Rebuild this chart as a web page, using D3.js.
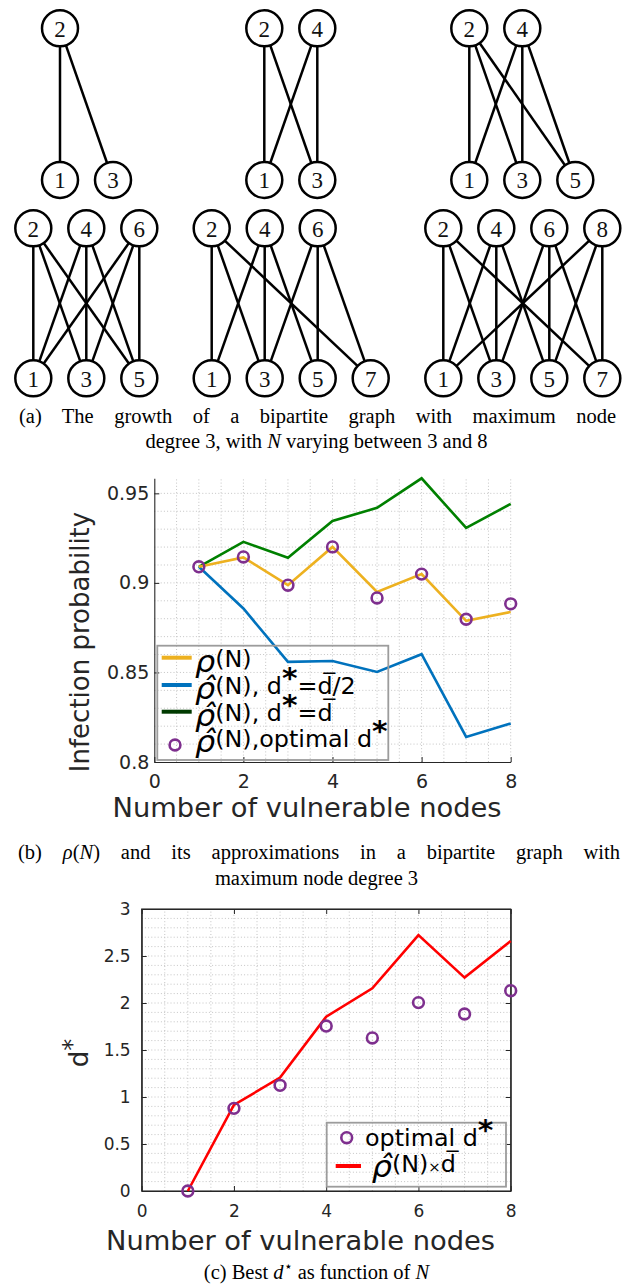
<!DOCTYPE html>
<html><head><meta charset="utf-8">
<script src="https://cdn.jsdelivr.net/npm/d3@7"></script>
<style>body{margin:0;background:#fff}svg{display:block}</style>
</head><body>
<svg id="fig" width="633" height="1288"></svg>
<script>
// ---------- (a) bipartite graphs, N = 3..8 ----------
const graphSizes = [3, 4, 5, 6, 7, 8];
const graphEdges = [
  [[2,1],[2,3]],
  [[2,1],[2,3],[4,1],[4,3]],
  [[2,1],[2,3],[2,5],[4,1],[4,3],[4,5]],
  [[2,1],[2,3],[2,5],[4,1],[4,3],[4,5],[6,1],[6,3],[6,5]],
  [[2,1],[2,3],[2,7],[4,1],[4,3],[4,5],[6,3],[6,5],[6,7]],
  [[2,1],[2,3],[2,7],[4,1],[4,3],[4,5],[6,3],[6,5],[6,7],[8,1],[8,5],[8,7]]
];

// ---------- (b) infection probability vs number of vulnerable nodes ----------
const nodeCounts = [1, 2, 3, 4, 5, 6, 7, 8];
const rhoExact   = [0.9090, 0.9142, 0.8987, 0.9201, 0.8950, 0.9049, 0.8788, 0.8838];
const rhoHalfD   = [0.9090, 0.8857, 0.8559, 0.8564, 0.8503, 0.8602, 0.8140, 0.8215];
const rhoFullD   = [0.9090, 0.9229, 0.9140, 0.9346, 0.9419, 0.9584, 0.9307, 0.9441];
const rhoOptimal = [0.9090, 0.9145, 0.8987, 0.9201, 0.8916, 0.9049, 0.8797, 0.8883];
const xTicks  = [0, 2, 4, 6, 8];
const yTicksB = [0.8, 0.85, 0.9, 0.95];

// ---------- (c) best d* vs number of vulnerable nodes ----------
const dOptimal     = [0, 0.879, 1.124, 1.755, 1.628, 2.004, 1.883, 2.131];
const dRhoTimesBar = [0, 0.915, 1.206, 1.855, 2.156, 2.723, 2.270, 2.660];
const yTicksC = [0, 0.5, 1, 1.5, 2, 2.5, 3];

const svg = d3.select("#fig");
const SANS = "DejaVu Sans";
const SERIF = "Liberation Serif";
const AX = "#262626";

// ================= (a) =================
const graphSlots = [
  {x0: 60,    yTop: 28.3,  yBot: 180},
  {x0: 264.3, yTop: 28.3,  yBot: 180},
  {x0: 469.3, yTop: 28.3,  yBot: 180},
  {x0: 33.3,  yTop: 228.3, yBot: 378.3},
  {x0: 211.7, yTop: 228.3, yBot: 378.3},
  {x0: 443.3, yTop: 228.3, yBot: 378.3}
];
const nodeR = 18;
graphSizes.forEach((n, gi) => {
  const slot = graphSlots[gi];
  const sx = d3.scaleLinear().domain([0, 1]).range([slot.x0, slot.x0 + 53]);
  const pos = id => ({
    x: sx(id % 2 === 0 ? id / 2 - 1 : (id - 1) / 2),
    y: id % 2 === 0 ? slot.yTop : slot.yBot
  });
  const g = svg.append("g");
  g.selectAll("line").data(graphEdges[gi]).join("line")
    .attr("x1", d => pos(d[0]).x).attr("y1", d => pos(d[0]).y)
    .attr("x2", d => pos(d[1]).x).attr("y2", d => pos(d[1]).y)
    .attr("stroke", "#000").attr("stroke-width", 2.5);
  const ids = d3.range(1, n + 1);
  const nodes = g.selectAll("g.node").data(ids).join("g")
    .attr("class", "node")
    .attr("transform", d => `translate(${pos(d).x},${pos(d).y})`);
  nodes.append("circle").attr("r", nodeR)
    .attr("fill", "#fff").attr("stroke", "#000").attr("stroke-width", 2.5);
  nodes.append("text").text(d => d)
    .attr("text-anchor", "middle").attr("dy", "0.36em")
    .attr("font-family", SERIF).attr("font-size", 23).attr("fill", "#111");
});

// captions: first line justified to the column, last line centred
function caption(y, parts, justify) {
  const t = svg.append("text").attr("y", y).attr("font-family", SERIF)
    .attr("font-size", 20.5).attr("fill", "#000");
  parts.forEach(p => {
    const ts = t.append("tspan").text(p.t);
    if (p.i) ts.attr("font-style", "italic");
    if (p.sup) ts.attr("font-size", 14).attr("dy", -8);
    if (p.down) ts.attr("dy", p.down);
  });
  if (justify) {
    const [x0, x1] = justify;
    const natural = t.node().getComputedTextLength();
    const spaces = parts.map(p => p.t).join("").split(" ").length - 1;
    t.attr("x", x0).attr("word-spacing", (x1 - x0 - natural) / spaces);
  } else {
    t.attr("x", 316.5).attr("text-anchor", "middle");
  }
  return t;
}
caption(423, [{t: "(a) The growth of a bipartite graph with maximum node"}], [19, 616]);
caption(448, [{t: "degree 3, with "}, {t: "N", i: 1}, {t: " varying between 3 and 8"}]);

// ================= shared axis helpers =================
function grid(g, x, y, xs, ys, color) {
  g.append("g").selectAll("line").data(xs).join("line")
    .attr("x1", d => x(d)).attr("x2", d => x(d))
    .attr("y1", y.range()[0]).attr("y2", y.range()[1])
    .attr("stroke", color).attr("stroke-width", 1).attr("stroke-dasharray", "1 2.2");
  g.append("g").selectAll("line").data(ys).join("line")
    .attr("y1", d => y(d)).attr("y2", d => y(d))
    .attr("x1", x.range()[0]).attr("x2", x.range()[1])
    .attr("stroke", color).attr("stroke-width", 1).attr("stroke-dasharray", "1 2.2");
}
function styleAxis(size) {
  return sel => {
    sel.select(".domain").attr("stroke", AX).attr("stroke-width", 1.1);
    sel.selectAll(".tick line").attr("stroke", AX);
    sel.selectAll(".tick text").attr("font-family", SANS).attr("font-size", size).attr("fill", AX);
    sel.attr("font-family", null).attr("font-size", null);
  };
}
const fmt = d => String(+d.toFixed(2));

// ================= (b) =================
const xB = d3.scaleLinear().domain([0, 8]).range([154.3, 510.7]);
const yB = d3.scaleLinear().domain([0.8, d3.max(rhoFullD)]).range([762, 478.3]);
const gB = svg.append("g");
grid(gB, xB, yB, d3.range(0.5, 8.01, 0.5), d3.range(0.81, d3.max(rhoFullD), 0.01), "#c4c4c4");

gB.append("g").attr("transform", `translate(0,${yB.range()[0]})`)
  .call(d3.axisBottom(xB).tickValues(xTicks).tickFormat(fmt).tickSizeInner(-5).tickSizeOuter(0).tickPadding(13))
  .call(styleAxis(19));
gB.append("g").attr("transform", `translate(${xB.range()[0]},0)`)
  .call(d3.axisLeft(yB).tickValues(yTicksB).tickFormat(fmt).tickSizeInner(-5).tickSizeOuter(0).tickPadding(5))
  .call(styleAxis(19));

const lineB = vals => d3.line().x((d, i) => xB(nodeCounts[i])).y(d => yB(d))(vals);
[[rhoHalfD, "#0072BD"], [rhoFullD, "#008000"], [rhoExact, "#EDB120"]].forEach(([v, c]) => {
  gB.append("path").attr("d", lineB(v)).attr("fill", "none")
    .attr("stroke", c).attr("stroke-width", 2.6).attr("stroke-linejoin", "miter");
});
gB.append("g").selectAll("circle").data(rhoOptimal).join("circle")
  .attr("cx", (d, i) => xB(nodeCounts[i])).attr("cy", d => yB(d)).attr("r", 5.4)
  .attr("fill", "none").attr("stroke", "#7E2F8E").attr("stroke-width", 2.6);

svg.append("text").attr("transform", "translate(89,642) rotate(-90)")
  .attr("text-anchor", "middle").attr("font-family", SANS).attr("font-size", 26)
  .attr("fill", AX).text("Infection probability");
svg.append("text").attr("transform", "translate(307,817) scale(1.05,1)")
  .attr("text-anchor", "middle").attr("font-family", SANS).attr("font-size", 26)
  .attr("fill", AX).text("Number of vulnerable nodes");

// legend (b)
function rhoHat(t, hat) {
  t.append("tspan").text(hat ? "\u03C1\u0302" : "\u03C1").attr("font-size", 30).attr("font-style", "italic").attr("dy", 5);
  t.append("tspan").text("(N)").attr("dy", -5);
}
function dStar(t) {
  t.append("tspan").text("d");
  t.append("tspan").text("*").attr("font-size", 28).attr("font-weight", "bold").attr("dy", -6);
}
const legB = svg.append("g");
legB.append("rect").attr("x", 157.3).attr("y", 645.7).attr("width", 231).attr("height", 114.3)
  .attr("fill", "none").attr("stroke", "#9c9c9c").attr("stroke-width", 1.8);
const legBRows = [
  {type: "line", color: "#EDB120", y: 657.7, base: 667},
  {type: "line", color: "#0072BD", y: 685,   base: 694},
  {type: "line", color: "#003a00", y: 711.7, base: 720.5},
  {type: "mark", color: "#7E2F8E", y: 745,   base: 747}
];
legBRows.forEach((r, i) => {
  if (r.type === "line") {
    legB.append("line").attr("x1", 161.7).attr("x2", 191.7).attr("y1", r.y).attr("y2", r.y)
      .attr("stroke", r.color).attr("stroke-width", 4);
  } else {
    legB.append("circle").attr("cx", 175).attr("cy", r.y).attr("r", 5.4)
      .attr("fill", "none").attr("stroke", r.color).attr("stroke-width", 2.6);
  }
  const t = legB.append("text").attr("transform", `translate(195,${r.base}) scale(1.06,1)`)
    .attr("font-family", SANS).attr("font-size", 22.5).attr("fill", "#000");
  if (i === 0) rhoHat(t, false);
  if (i === 1) { rhoHat(t, true); t.append("tspan").text(", "); dStar(t); t.append("tspan").text("=").attr("dy", 6); t.append("tspan").text("d\u0305/2"); }
  if (i === 2) { rhoHat(t, true); t.append("tspan").text(", "); dStar(t); t.append("tspan").text("=").attr("dy", 6); t.append("tspan").text("d\u0305"); }
  if (i === 3) { rhoHat(t, true); t.append("tspan").text(",optimal "); dStar(t); }
});

caption(859, [{t: "(b) "}, {t: "\u03C1", i: 1}, {t: "("}, {t: "N", i: 1}, {t: ") and its approximations in a bipartite graph with"}], [18, 620]);
caption(885, [{t: "maximum node degree 3"}]);

// ================= (c) =================
const xC = d3.scaleLinear().domain([0, 8]).range([141.7, 510.7]);
const yC = d3.scaleLinear().domain([0, 3]).range([1191, 909]);
const gC = svg.append("g");
grid(gC, xC, yC, d3.range(0.5, 8, 0.5), d3.range(0.1, 3, 0.1), "#c4c4c4");
gC.append("rect").attr("x", xC(0)).attr("y", yC(3)).attr("width", xC(8) - xC(0)).attr("height", yC(0) - yC(3))
  .attr("fill", "none").attr("stroke", AX).attr("stroke-width", 1.1);
gC.append("g").attr("transform", `translate(0,${yC(0)})`)
  .call(d3.axisBottom(xC).tickValues(xTicks).tickFormat(fmt).tickSizeInner(-5).tickSizeOuter(0).tickPadding(14))
  .call(styleAxis(17));
gC.append("g").attr("transform", `translate(0,${yC(3)})`)
  .call(d3.axisTop(xC).tickValues(xTicks).tickFormat("").tickSizeInner(-5).tickSizeOuter(0))
  .call(styleAxis(17));
gC.append("g").attr("transform", `translate(${xC(0)},0)`)
  .call(d3.axisLeft(yC).tickValues(yTicksC).tickFormat(fmt).tickSizeInner(-5).tickSizeOuter(0).tickPadding(11))
  .call(styleAxis(17));
gC.append("g").attr("transform", `translate(${xC(8)},0)`)
  .call(d3.axisRight(yC).tickValues(yTicksC).tickFormat("").tickSizeInner(-5).tickSizeOuter(0))
  .call(styleAxis(17));

gC.append("path")
  .attr("d", d3.line().x((d, i) => xC(nodeCounts[i])).y(d => yC(d))(dRhoTimesBar))
  .attr("fill", "none").attr("stroke", "#FF0000").attr("stroke-width", 2.6);
gC.append("g").selectAll("circle").data(dOptimal).join("circle")
  .attr("cx", (d, i) => xC(nodeCounts[i])).attr("cy", d => yC(d)).attr("r", 5.4)
  .attr("fill", "none").attr("stroke", "#7E2F8E").attr("stroke-width", 2.6);

const yLabC = svg.append("text").attr("transform", "translate(88,1053) rotate(-90)")
  .attr("text-anchor", "middle").attr("font-family", SANS).attr("font-size", 26).attr("fill", AX);
yLabC.append("tspan").text("d");
yLabC.append("tspan").text("*").attr("dy", -8).attr("font-size", 24);
svg.append("text").attr("transform", "translate(300.5,1250) scale(1.05,1)")
  .attr("text-anchor", "middle").attr("font-family", SANS).attr("font-size", 26)
  .attr("fill", AX).text("Number of vulnerable nodes");

// legend (c)
const legC = svg.append("g");
legC.append("rect").attr("x", 326.7).attr("y", 1122.7).attr("width", 179.3).attr("height", 64)
  .attr("fill", "none").attr("stroke", "#9c9c9c").attr("stroke-width", 1.8);
legC.append("circle").attr("cx", 346.7).attr("cy", 1137.7).attr("r", 5.4)
  .attr("fill", "none").attr("stroke", "#7E2F8E").attr("stroke-width", 2.6);
const tC1 = legC.append("text").attr("transform", "translate(365,1145.5) scale(1.06,1)")
  .attr("font-family", SANS).attr("font-size", 22.5).attr("fill", "#000");
tC1.append("tspan").text("optimal ");
dStar(tC1);
legC.append("line").attr("x1", 335.7).attr("x2", 361).attr("y1", 1166).attr("y2", 1166)
  .attr("stroke", "#FF0000").attr("stroke-width", 4);
const tC2 = legC.append("text").attr("transform", "translate(371.7,1172) scale(1.06,1)")
  .attr("font-family", SANS).attr("font-size", 22.5).attr("fill", "#000");
rhoHat(tC2, true);
tC2.append("tspan").text("\u00D7").attr("font-size", 14);
tC2.append("tspan").text("d\u0305");

caption(1279, [{t: "(c) Best "}, {t: "d", i: 1}, {t: "\u22C6", sup: 1}, {t: " as function of ", down: 8}, {t: "N", i: 1}]);
</script>
</body></html>
